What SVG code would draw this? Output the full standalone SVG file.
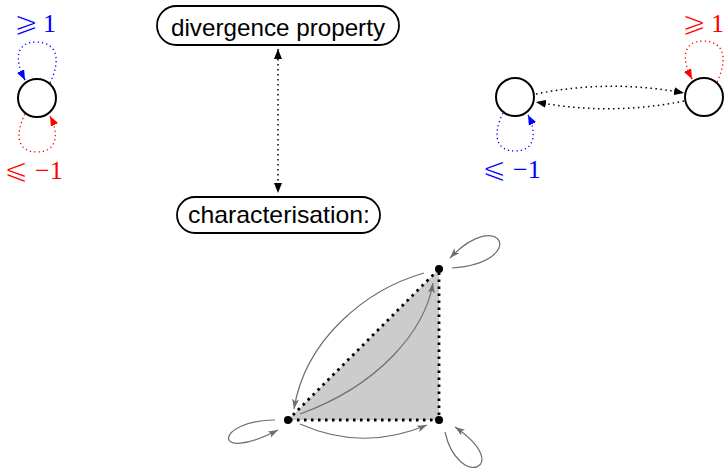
<svg xmlns="http://www.w3.org/2000/svg" width="727" height="469" viewBox="0 0 727 469">
<style>
.node{fill:#fff;stroke:#000;stroke-width:1.8}
.lbl{font-family:"Liberation Sans",Arial,sans-serif;font-size:24px;fill:#000;text-anchor:middle}
.rel{font-family:"DejaVu Sans",sans-serif;font-size:29px;stroke:#fff;stroke-width:0.9}
.num{font-family:"Liberation Serif","Times New Roman",serif;font-size:26px}
.st{fill:#fff;stroke:#000;stroke-width:2}
.dotk{fill:none;stroke:#000;stroke-width:1.5;stroke-dasharray:1.5 3.5}
.dotb{fill:none;stroke:#0000ff;stroke-width:1.3;stroke-dasharray:1.3 3}
.dotr{fill:none;stroke:#ff0000;stroke-width:1.3;stroke-dasharray:1.3 3}
.gray{fill:none;stroke:#6e6e6e;stroke-width:1.2}
.edge{fill:none;stroke:#000;stroke-width:2.8;stroke-dasharray:2.6 4.4}
</style>
<defs>
<marker id="ak" markerUnits="userSpaceOnUse" viewBox="0 0 10 8" refX="10" refY="4" markerWidth="10" markerHeight="8" orient="auto-start-reverse"><path d="M0,0 L10,4 L0,8 Z" fill="#000"/></marker>
<marker id="ab" markerUnits="userSpaceOnUse" viewBox="0 0 10 8" refX="10" refY="4" markerWidth="10" markerHeight="8" orient="auto"><path d="M0,0 L10,4 L0,8 Z" fill="#0000ff"/></marker>
<marker id="ar" markerUnits="userSpaceOnUse" viewBox="0 0 10 8" refX="10" refY="4" markerWidth="10" markerHeight="8" orient="auto"><path d="M0,0 L10,4 L0,8 Z" fill="#ff0000"/></marker>
<marker id="ag" markerUnits="userSpaceOnUse" viewBox="0 0 10 8" refX="10" refY="4" markerWidth="10" markerHeight="8" orient="auto"><path d="M0,0.5 L10,4 L0,7.5 L2.5,4 Z" fill="#6e6e6e"/></marker>
</defs>

<g id="triangle">
<polygon points="439,269 288,420 439,420" fill="#cccccc"/>
</g>

<g id="connectors">
<path class="dotk" d="M278,49 L278,193" marker-start="url(#ak)" marker-end="url(#ak)"/>
<path class="dotb" d="M50,83 C62,58 56,42 36,42 C16,42 14,60 25,80"/>
<path class="dotb" d="M24,78 L25,80" marker-end="url(#ab)" style="stroke-dasharray:none"/>
<path class="dotr" d="M25,114 C14,136 18,152 37,152 C56,152 60,136 50,116"/>
<path class="dotr" d="M50.5,117 L50,116" marker-end="url(#ar)" style="stroke-dasharray:none"/>
<path class="dotr" d="M717,82 C729,57 723,41 703,41 C683,41 681,59 692,79"/>
<path class="dotr" d="M691,77 L692,79" marker-end="url(#ar)" style="stroke-dasharray:none"/>
<path class="dotb" d="M503,113 C492,135 496,151 515,151 C534,151 538,135 528,115"/>
<path class="dotb" d="M528.5,116 L528,115" marker-end="url(#ab)" style="stroke-dasharray:none"/>
<path class="dotk" d="M536,94 Q610,79 684,93" marker-end="url(#ak)"/>
<path class="dotk" d="M684,101 Q610,116 536,102" marker-end="url(#ak)"/>
<path class="edge" d="M288,420 L439,269 L439,420 Z"/>
<path class="gray" d="M452,268 C530,262 500,205 450,258" marker-end="url(#ag)"/>
<path class="gray" d="M445,432 C458,490 515,468 455,427" marker-end="url(#ag)"/>
<path class="gray" d="M275,420 C215,420 210,465 278,430" marker-end="url(#ag)"/>
<path class="gray" d="M300,424 Q363,452 427,425" marker-end="url(#ag)"/>
<path class="gray" d="M424,273 C365,290 305,340 294,409" marker-end="url(#ag)"/>
<path class="gray" d="M300,414 C380,385 425,330 433,283" marker-end="url(#ag)"/>
</g>

<g id="divergence">
<rect class="node" x="157" y="6" width="242" height="39" rx="19.5"/>
<text class="lbl" x="278" y="36" textLength="214" lengthAdjust="spacingAndGlyphs">divergence property</text>
</g>
<g id="characterisation">
<rect class="node" x="177" y="197" width="203" height="36" rx="18"/>
<text class="lbl" x="279" y="223" textLength="182" lengthAdjust="spacingAndGlyphs">characterisation:</text>
</g>

<g id="stateL">
<circle class="st" cx="37" cy="98" r="19"/>
</g>
<g id="stateR1">
<circle class="st" cx="515" cy="97" r="19"/>
</g>
<g id="stateR2">
<circle class="st" cx="704" cy="97" r="19"/>
</g>
<g id="vA"><circle cx="439" cy="269" r="4"/></g>
<g id="vB"><circle cx="288" cy="420" r="4"/></g>
<g id="vC"><circle cx="439" cy="420" r="4"/></g>

<g id="labels">
<text y="32" fill="#0000ff"><tspan class="rel" x="14">⩾</tspan><tspan class="num" x="43">1</tspan></text>
<text y="179" fill="#ff0000"><tspan class="rel" x="4">⩽</tspan><tspan class="num" x="35">−1</tspan></text>
<text y="32" fill="#ff0000"><tspan class="rel" x="682">⩾</tspan><tspan class="num" x="711">1</tspan></text>
<text y="178" fill="#0000ff"><tspan class="rel" x="482">⩽</tspan><tspan class="num" x="513">−1</tspan></text>
</g>
</svg>
